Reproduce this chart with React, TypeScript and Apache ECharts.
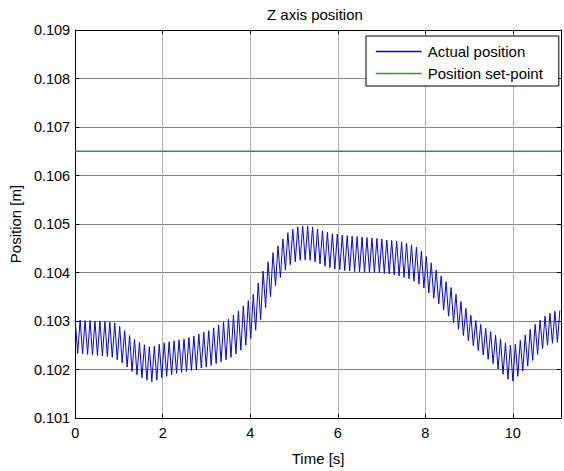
import React, { useEffect, useRef } from 'react';
import * as echarts from 'echarts';

const TITLE = 'Z axis position';
const X_NAME = 'Time [s]';
const Y_NAME = 'Position [m]';
const SERIES_NAMES = ['Actual position', 'Position set-point'];
const X_TICKS = [0, 2, 4, 6, 8, 10];
const Y_TICKS = ['0.101', '0.102', '0.103', '0.104', '0.105', '0.106', '0.107', '0.108', '0.109'];
const X_MIN = 0;
const X_MAX = 11.1;
const Y_MIN = 0.101;
const Y_MAX = 0.109;

// time between successive extrema of the oscillating signal (s)
const HALF_PERIOD = 0.0565;

// local maxima of the actual position, in order
const PEAKS = [
  0.10303, 0.10302, 0.10301, 0.10301, 0.10300, 0.10300, 0.10299, 0.10298, 0.10296, 0.10289,
  0.10280, 0.10270, 0.10262, 0.10256, 0.10251, 0.10247, 0.10248, 0.10252, 0.10255, 0.10257,
  0.10259, 0.10261, 0.10263, 0.10266, 0.10269, 0.10273, 0.10277, 0.10280, 0.10286, 0.10292,
  0.10298, 0.10304, 0.10312, 0.10321, 0.10331, 0.10342, 0.10355, 0.10378, 0.10403, 0.10422,
  0.10441, 0.10455, 0.10469, 0.10482, 0.10489, 0.10494, 0.10496, 0.10496, 0.10494, 0.10490,
  0.10486, 0.10483, 0.10480, 0.10479, 0.10477, 0.10476, 0.10475, 0.10474, 0.10473, 0.10472,
  0.10471, 0.10470, 0.10469, 0.10467, 0.10466, 0.10465, 0.10463, 0.10461, 0.10457, 0.10452,
  0.10444, 0.10433, 0.10420, 0.10405, 0.10393, 0.10381, 0.10369, 0.10355, 0.10340, 0.10326,
  0.10312, 0.10301, 0.10293, 0.10285, 0.10278, 0.10271, 0.10263, 0.10255, 0.10250, 0.10252,
  0.10260, 0.10271, 0.10283, 0.10293, 0.10302, 0.10310, 0.10316, 0.10320, 0.10322,
];

// local minima of the actual position, in order
const TROUGHS = [
  0.10233, 0.10232, 0.10231, 0.10230, 0.10229, 0.10228, 0.10227, 0.10225, 0.10220, 0.10214,
  0.10205, 0.10196, 0.10189, 0.10183, 0.10178, 0.10175, 0.10178, 0.10183, 0.10186, 0.10189,
  0.10192, 0.10194, 0.10196, 0.10198, 0.10200, 0.10203, 0.10205, 0.10208, 0.10212, 0.10216,
  0.10220, 0.10225, 0.10232, 0.10240, 0.10250, 0.10264, 0.10281, 0.10303, 0.10328, 0.10350,
  0.10373, 0.10390, 0.10405, 0.10416, 0.10422, 0.10425, 0.10426, 0.10425, 0.10422, 0.10418,
  0.10413, 0.10410, 0.10407, 0.10406, 0.10404, 0.10403, 0.10402, 0.10401, 0.10400, 0.10400,
  0.10400, 0.10399, 0.10398, 0.10397, 0.10395, 0.10393, 0.10390, 0.10387, 0.10382, 0.10376,
  0.10368, 0.10358, 0.10347, 0.10335, 0.10323, 0.10310, 0.10296, 0.10283, 0.10270, 0.10259,
  0.10249, 0.10239, 0.10230, 0.10221, 0.10212, 0.10201, 0.10190, 0.10180, 0.10176, 0.10186,
  0.10197, 0.10207, 0.10219, 0.10231, 0.10243, 0.10250, 0.10254, 0.10256,
];

const SETPOINT_T = [0, 11.1];
const SETPOINT_V = [0.1065, 0.1065];

const FONT = "'Liberation Sans', Arial, Helvetica, sans-serif";

export default function App() {
  const ref = useRef<HTMLDivElement>(null);

  useEffect(() => {
    if (!ref.current) return;
    const chart = echarts.init(ref.current, undefined, { renderer: 'svg' });

    const actual: number[][] = [];
    const n = PEAKS.length + TROUGHS.length;
    for (let k = 0; k < n; k++) {
      const v = k % 2 === 0 ? PEAKS[k / 2] : TROUGHS[(k - 1) / 2];
      if (v === undefined) continue;
      actual.push([k * HALF_PERIOD, v]);
    }
    const setpoint = SETPOINT_T.map((t, i) => [t, SETPOINT_V[i]]);

    const xLabel = (v: number) => {
      const hit = X_TICKS.find((t) => Math.abs(t - v) < 1e-9);
      return hit === undefined ? '' : String(hit);
    };
    const yLabel = (v: number) => {
      const hit = Y_TICKS.find((s) => Math.abs(parseFloat(s) - v) < 1e-7);
      return hit === undefined ? '' : hit;
    };

    const tick = { show: true, inside: true, length: 4, lineStyle: { color: '#000', width: 1 } };
    const line = { show: true, onZero: false, lineStyle: { color: '#000', width: 1 } };

    chart.setOption({
      animation: false,
      backgroundColor: '#fff',
      title: {
        text: TITLE,
        left: 267,
        top: 7,
        padding: 0,
        textStyle: { fontSize: 15, fontWeight: 'normal', color: '#000', fontFamily: FONT },
      },
      grid: { left: 70, right: 3, top: 30, bottom: 51, containLabel: false },
      legend: {
        data: SERIES_NAMES,
        orient: 'vertical',
        left: 366,
        top: 36,
        padding: [8, 16, 5, 9],
        itemWidth: 46,
        itemHeight: 14,
        itemGap: 7,
        itemStyle: { opacity: 0 },
        lineStyle: { width: 1.5 },
        borderColor: '#000',
        borderWidth: 1,
        borderRadius: 0,
        backgroundColor: '#fff',
        textStyle: { fontSize: 15, color: '#000', fontFamily: FONT, padding: [0, 0, 0, 1] },
      },
      xAxis: [
        {
          type: 'value',
          min: X_MIN,
          max: X_MAX,
          interval: 2,
          position: 'bottom',
          axisLine: line,
          axisTick: tick,
          axisLabel: {
            margin: 7,
            color: '#000',
            fontSize: 14.5,
            fontFamily: FONT,
            formatter: xLabel,
            showMaxLabel: false,
          },
          splitLine: { show: true, lineStyle: { color: '#b0b0b0', width: 1 } },
          name: X_NAME,
          nameLocation: 'middle',
          nameGap: 33,
          nameTextStyle: { fontSize: 15, color: '#000', fontFamily: FONT },
        },
        {
          type: 'value',
          min: X_MIN,
          max: X_MAX,
          interval: 2,
          position: 'top',
          axisLine: line,
          axisTick: tick,
          axisLabel: { show: false },
          splitLine: { show: false },
        },
      ],
      yAxis: [
        {
          type: 'value',
          min: Y_MIN,
          max: Y_MAX,
          interval: 0.001,
          position: 'left',
          axisLine: line,
          axisTick: tick,
          axisLabel: {
            margin: 5,
            color: '#000',
            fontSize: 14.5,
            fontFamily: FONT,
            formatter: yLabel,
          },
          splitLine: { show: true, lineStyle: { color: '#808080', width: 1 } },
          name: Y_NAME,
          nameLocation: 'middle',
          nameGap: 49,
          nameTextStyle: { fontSize: 15, color: '#000', fontFamily: FONT },
        },
        {
          type: 'value',
          min: Y_MIN,
          max: Y_MAX,
          interval: 0.001,
          position: 'right',
          axisLine: line,
          axisTick: tick,
          axisLabel: { show: false },
          splitLine: { show: false },
        },
      ],
      series: [
        {
          name: SERIES_NAMES[0],
          type: 'line',
          xAxisIndex: 0,
          yAxisIndex: 0,
          data: actual,
          symbol: 'none',
          showSymbol: false,
          lineStyle: { color: '#0000ff', width: 1 },
          itemStyle: { color: '#0000ff' },
          clip: true,
          z: 3,
        },
        {
          name: SERIES_NAMES[1],
          type: 'line',
          xAxisIndex: 0,
          yAxisIndex: 0,
          data: setpoint,
          symbol: 'none',
          showSymbol: false,
          lineStyle: { color: '#22a022', width: 1.3 },
          itemStyle: { color: '#22a022' },
          clip: true,
          z: 3,
        },
      ],
    });

    return () => chart.dispose();
  }, []);

  return (
    <div
      ref={ref}
      style={{ position: 'fixed', left: 0, top: 0, width: 564, height: 471, background: '#fff' }}
    />
  );
}
